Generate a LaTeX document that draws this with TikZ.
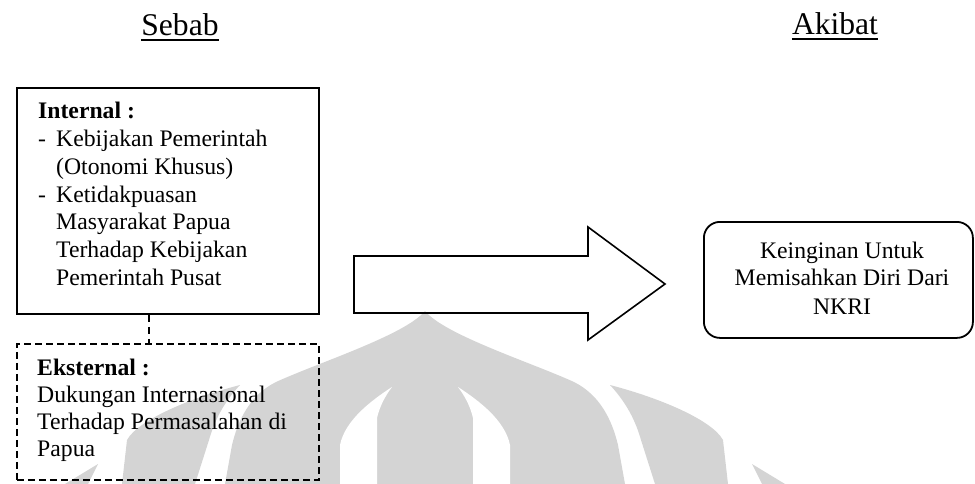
\documentclass[tikz,border=0pt]{standalone}
\usepackage{fontspec}
\setmainfont{Liberation Serif}
\definecolor{wm}{RGB}{212,212,212}
\tikzset{
  solidbox/.style={draw=black, line width=1.8pt, inner sep=0pt, rectangle},
  dashbox/.style={draw=black, line width=1.6pt, inner sep=0pt, rectangle, dash pattern=on 7pt off 4pt},
  roundbox/.style={draw=black, line width=1.8pt, inner sep=0pt, rectangle, rounded corners=16pt},
  dline/.style={draw=black, line width=1.6pt, dash pattern=on 7pt off 5pt},
  arrowshape/.style={draw=black, line width=1.6pt, line join=miter},
  head/.style={inner sep=0pt, font=\fontsize{31.6}{36}\selectfont},
  body/.style={inner sep=0pt, font=\fontsize{23.7}{27.7}\selectfont},
  uline/.style={line width=1.4pt},
  wmark/.style={fill=wm}
}
\begin{document}
\begin{tikzpicture}[x=1pt, y=-1pt]
\useasboundingbox (0,0) rectangle (975,484);
% watermark
\fill[wmark] (425,311) .. controls (445,335) and (530,362) .. (574,382)
  .. controls (600,395) and (612,420) .. (618,445) -- (625,484) -- (225,484) -- (232,445)
  .. controls (238,420) and (250,395) .. (276,382)
  .. controls (320,362) and (405,335) .. (425,311) -- cycle;
\fill[white] (392,387) .. controls (372,400) and (345,420) .. (340,445) -- (340,484) -- (377,484) -- (377,418)
  .. controls (380,405) and (386,395) .. (392,387) -- cycle;
\fill[white] (458,387) .. controls (478,400) and (505,420) .. (510,445) -- (510,484) -- (473,484) -- (473,418)
  .. controls (470,405) and (464,395) .. (458,387) -- cycle;
\fill[wmark] (610,385) .. controls (660,398) and (712,420) .. (723,440) -- (728,484) -- (655,484) -- (641,440)
  .. controls (634,415) and (622,398) .. (610,385) -- cycle;
\fill[wmark] (240,385) .. controls (190,398) and (138,420) .. (127,440) -- (122,484) -- (195,484) -- (209,440)
  .. controls (216,415) and (228,398) .. (240,385) -- cycle;
\fill[wmark] (752,464) -- (785,484) -- (762,484) -- cycle;
\fill[wmark] (98,464) -- (65,484) -- (88,484) -- cycle;

% headings
\node[head, anchor=base] (sebab) at (180,36) {Sebab};
\draw[uline] ([yshift=-4pt]sebab.base west) -- ([yshift=-4pt]sebab.base east);
\node[head, anchor=base] (akibat) at (835,35) {Akibat};
\draw[uline] ([yshift=-4pt]akibat.base west) -- ([yshift=-4pt]akibat.base east);

% boxes
\node[solidbox, anchor=north west, minimum width=302pt, minimum height=226pt] (internal) at (16,87) {};
\node[dashbox, anchor=north west, minimum width=302pt, minimum height=136pt] (eksternal) at (16,343) {};
\node[roundbox, anchor=north west, minimum width=269pt, minimum height=116pt] (akibatbox) at (703,221) {};

% texts
\node[body, anchor=base west] (inttext) at (38,119) {\parbox[t]{280pt}{\fontsize{23.7}{27.7}\selectfont
\textbf{Internal :}\\
\makebox[18pt][l]{-}Kebijakan Pemerintah\\
\hspace*{18pt}(Otonomi Khusus)\\
\makebox[18pt][l]{-}Ketidakpuasan\\
\hspace*{18pt}Masyarakat Papua\\
\hspace*{18pt}Terhadap Kebijakan\\
\hspace*{18pt}Pemerintah Pusat}};
\node[body, anchor=base west] (exttext) at (37,375) {\parbox[t]{280pt}{\fontsize{23.7}{27}\selectfont
\textbf{Eksternal :}\\
Dukungan Internasional\\
Terhadap Permasalahan di\\
Papua}};
\node[body, anchor=base] (restext) at (842,258) {\parbox[t]{265pt}{\centering\fontsize{23.7}{28}\selectfont
Keinginan Untuk\\
Memisahkan Diri Dari\\
NKRI}};

% dashed link
\coordinate (link) at (149,0);
\draw[dline] (internal.south -| link) -- (eksternal.north -| link);

% block arrow
\coordinate (a1) at (354,256);
\coordinate (a2) at (588,256);
\coordinate (a3) at (588,227);
\coordinate (tip) at (665,284);
\coordinate (a5) at (588,340);
\coordinate (a6) at (588,313);
\coordinate (a7) at (354,313);
\draw[arrowshape] (a1) -- (a2) -- (a3) -- (tip) -- (a5) -- (a6) -- (a7) -- cycle;
\end{tikzpicture}
\end{document}
